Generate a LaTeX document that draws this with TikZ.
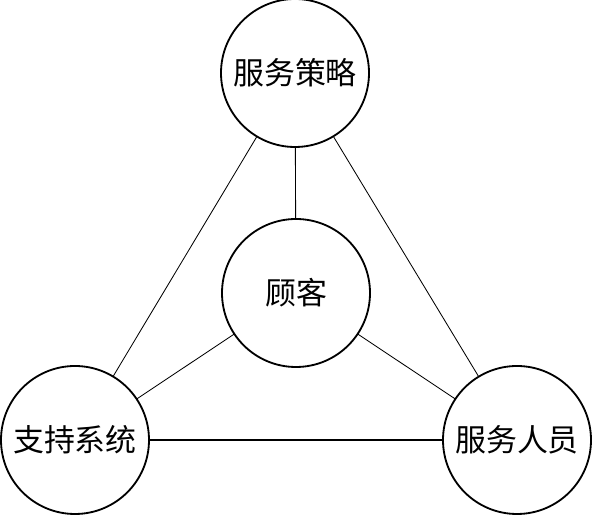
\documentclass[tikz,border=0pt]{standalone}
\usepackage{fontspec}
\newfontfamily\cjk{Noto Sans CJK SC}
\begin{document}
\begin{tikzpicture}[x=1cm,y=1cm,line cap=round,line join=round,
    font=\cjk\fontsize{22}{26}\selectfont,
    hub/.style={circle,draw,line width=1.3pt,minimum size=3.7cm,inner sep=0pt},
    link/.style={line width=0.6pt}]
  \useasboundingbox (0,0) rectangle (14.8,12.875);
  \node[hub] (strategy) at (7.375,11.05) {服务策略};
  \node[hub] (customer) at (7.40,5.55) {顾客};
  \node[hub] (system) at (1.875,1.875) {支持系统};
  \node[hub] (staff) at (12.925,1.875) {服务人员};
  \draw[link] (strategy) -- (customer);
  \draw[link] (strategy) -- (system);
  \draw[link] (strategy) -- (staff);
  \draw[link] (customer) -- (system);
  \draw[link] (customer) -- (staff);
  \draw[line width=1.2pt] (system) -- (staff);
\end{tikzpicture}
\end{document}
